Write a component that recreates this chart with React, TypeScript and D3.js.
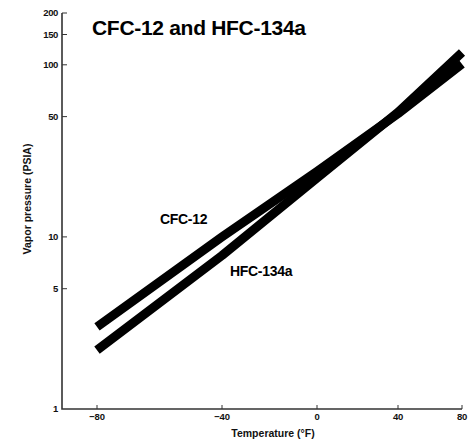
import React, { useRef, useEffect } from "react";
import * as d3 from "d3";

// temperatures (°F) at the axis ticks
const temps = [-80, -40, 0, 40, 80];
const cfc12 = [3.0, 10.0, 24.0, 52.0, 101];
const hfc134a = [2.2, 7.8, 22.0, 53.0, 118];
const yTicks = [1, 5, 10, 50, 100, 150, 200];
const xTickLabels = ["\u221280", "\u221240", "0", "40", "80"];

const App = () => {
  const svgRef = useRef<SVGSVGElement | null>(null);

  useEffect(() => {
    const svg = d3.select(svgRef.current);
    svg.selectAll("*").remove();

    const width = 469;
    const height = 444;
    const font = "'Liberation Sans', Arial, Helvetica, sans-serif";

    // the temperature axis is not linear (it is compressed toward warm end)
    const x = d3.scaleLinear().domain(temps).range([97, 222, 317, 398, 462]);
    const y = d3.scaleLog().domain([1, 200]).range([409, 13]);

    svg.attr("width", width).attr("height", height).style("font-family", font);

    svg.append("rect").attr("width", width).attr("height", height).attr("fill", "#fff");

    // axes
    const axisColor = "#333";
    svg
      .append("path")
      .attr("d", `M62,${y(200)}V${y(1)}H${x(80)}`)
      .attr("fill", "none")
      .attr("stroke", axisColor)
      .attr("stroke-width", 1.6);

    // y ticks
    const yt = svg.append("g");
    yt.selectAll("line")
      .data(yTicks.filter(d => d > 1))
      .enter()
      .append("line")
      .attr("x1", 62)
      .attr("x2", 67)
      .attr("y1", d => y(d))
      .attr("y2", d => y(d))
      .attr("stroke", axisColor)
      .attr("stroke-width", 1);
    yt.selectAll("text")
      .data(yTicks)
      .enter()
      .append("text")
      .attr("x", 58)
      .attr("y", d => y(d))
      .attr("dy", "0.36em")
      .attr("text-anchor", "end")
      .attr("font-size", 9.5)
      .attr("font-weight", "bold")
      .attr("letter-spacing", -0.4)
      .attr("fill", "#111")
      .text(d => d);

    // x ticks
    const xt = svg.append("g");
    xt.selectAll("line")
      .data(temps)
      .enter()
      .append("line")
      .attr("x1", d => x(d))
      .attr("x2", d => x(d))
      .attr("y1", y(1))
      .attr("y2", y(1) - 4)
      .attr("stroke", axisColor)
      .attr("stroke-width", 1);
    xt.selectAll("text")
      .data(temps)
      .enter()
      .append("text")
      .attr("x", d => x(d))
      .attr("y", 420)
      .attr("text-anchor", "middle")
      .attr("font-size", 9.5)
      .attr("font-weight", "bold")
      .attr("letter-spacing", -0.2)
      .attr("fill", "#111")
      .text((d, i) => xTickLabels[i]);

    // axis titles
    svg
      .append("text")
      .attr("x", 273)
      .attr("y", 437)
      .attr("text-anchor", "middle")
      .attr("font-size", 10.5)
      .attr("font-weight", "bold")
      .attr("fill", "#111")
      .text("Temperature (\u00b0F)");

    svg
      .append("text")
      .attr("transform", "translate(31,199) rotate(-90)")
      .attr("text-anchor", "middle")
      .attr("font-size", 10.5)
      .attr("font-weight", "bold")
      .attr("fill", "#111")
      .text("Vapor pressure (PSIA)");

    // the two curves
    const line = d3
      .line<number>()
      .x((d, i) => x(temps[i]))
      .y(d => y(d));

    [cfc12, hfc134a].forEach(series => {
      svg
        .append("path")
        .attr("d", line(series))
        .attr("fill", "none")
        .attr("stroke", "#000")
        .attr("stroke-width", 9)
        .attr("stroke-linecap", "butt")
        .attr("stroke-linejoin", "round");
    });

    // labels
    svg
      .append("text")
      .attr("x", 160)
      .attr("y", 224)
      .attr("font-size", 14)
      .attr("font-weight", "bold")
      .attr("letter-spacing", -0.3)
      .text("CFC-12");

    svg
      .append("text")
      .attr("x", 230)
      .attr("y", 276)
      .attr("font-size", 14)
      .attr("font-weight", "bold")
      .attr("letter-spacing", -0.3)
      .text("HFC-134a");

    svg
      .append("text")
      .attr("x", 92)
      .attr("y", 35)
      .attr("font-size", 21)
      .attr("font-weight", "bold")
      .attr("letter-spacing", -0.3)
      .text("CFC-12 and HFC-134a");
  }, []);

  return (
    <div style={{ position: "absolute", left: 0, top: 0 }}>
      <svg ref={svgRef}></svg>
    </div>
  );
};

export default App;
